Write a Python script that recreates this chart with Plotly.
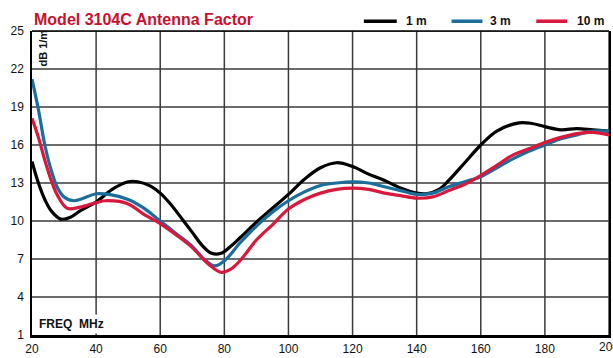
import plotly.graph_objects as go

# ---- data ----
freq_1m = [20, 22, 24, 26, 29, 32, 35, 40, 45, 50, 53, 57, 60, 63, 67, 70, 73, 76, 79, 82, 85, 90, 95,
           100, 105, 110, 115, 120, 125, 130, 135, 140, 143, 147, 150, 155, 160, 165, 172, 176, 180,
           185, 190, 195, 200]
af_1m = [14.7, 13.0, 11.7, 10.8, 10.15, 10.3, 10.8, 11.5, 12.5, 13.1, 13.1, 12.75, 12.2, 11.4, 10.1,
         9.1, 8.1, 7.45, 7.45, 8.0, 8.7, 9.9, 11.0, 12.1, 13.3, 14.2, 14.6, 14.3, 13.7, 13.2, 12.6,
         12.2, 12.15, 12.5, 13.2, 14.6, 16.0, 17.1, 17.75, 17.7, 17.45, 17.2, 17.3, 17.2, 17.1]

freq_3m = [20, 22, 24, 26, 28, 30, 33, 36, 40, 44, 50, 55, 60, 65, 70, 74, 77, 80, 85, 90, 95, 100,
           105, 110, 115, 120, 125, 130, 135, 140, 145, 150, 155, 160, 165, 170, 175, 180, 185, 190,
           195, 200]
af_3m = [21.2, 18.8, 16.0, 14.0, 12.6, 11.9, 11.6, 11.8, 12.15, 12.1, 11.7, 11.0, 10.0, 9.0, 8.0,
         6.9, 6.45, 6.85, 8.3, 9.6, 10.7, 11.6, 12.3, 12.8, 13.0, 13.1, 13.0, 12.7, 12.4, 12.1, 12.2,
         12.7, 13.1, 13.5, 14.2, 14.9, 15.5, 16.0, 16.5, 16.8, 17.1, 17.1]

freq_10m = [20, 22, 24, 26, 28, 31, 35, 40, 43, 50, 55, 60, 65, 70, 75, 79, 82, 85, 90, 95, 100, 105,
            110, 115, 120, 125, 130, 135, 140, 145, 150, 155, 160, 165, 170, 175, 180, 185, 190, 195,
            200]
af_10m = [18.1, 16.6, 14.8, 13.2, 12.0, 11.0, 11.1, 11.45, 11.6, 11.35, 10.5, 9.8, 8.9, 7.9, 6.6,
          5.95, 6.2, 6.9, 8.5, 9.7, 10.95, 11.7, 12.2, 12.5, 12.6, 12.5, 12.2, 12.0, 11.8, 11.9, 12.4,
          12.9, 13.6, 14.4, 15.2, 15.7, 16.2, 16.6, 16.9, 17.0, 16.8]

x_ticks = [20, 40, 60, 80, 100, 120, 140, 160, 180, 200]
y_ticks = [1, 4, 7, 10, 13, 16, 19, 22, 25]

series_names = ["1 m", "3 m", "10 m"]
series_colors = ["#000000", "#1b6d9c", "#d8183c"]
series_data = [(freq_1m, af_1m), (freq_3m, af_3m), (freq_10m, af_10m)]

FONT = "Liberation Sans, Arial, sans-serif"
GRID = "#3a3a3a"
W, H = 613, 358
ML, MR, MT, MB = 32, 2, 31, 16
PW, PH = W - ML - MR, H - MT - MB

def px_x(p):  # page pixel -> paper x
    return (p - ML) / PW

def px_y(p):  # page pixel -> paper y
    return (H - MB - p) / PH

fig = go.Figure()
for name, col, (fx, fy) in zip(series_names, series_colors, series_data):
    fig.add_trace(go.Scatter(x=fx, y=fy, name=name, mode="lines", showlegend=False,
                             line=dict(color=col, width=3.2, shape="spline", smoothing=1.0)))

shapes = []
# grid lines at the tick values (drawn beneath the curves)
for xv in x_ticks[1:]:
    shapes.append(dict(type="line", xref="x", yref="paper", x0=xv, x1=xv, y0=0, y1=1,
                       layer="below", line=dict(color=GRID, width=1.5)))
for yv in y_ticks[1:]:
    shapes.append(dict(type="line", xref="paper", yref="y", x0=0, x1=1, y0=yv, y1=yv,
                       layer="below", line=dict(color=GRID, width=1.5)))
shapes.append(dict(type="line", xref="paper", yref="paper", x0=0, x1=1, y0=1, y1=1,
                   line=dict(color="black", width=1.5)))

# legend drawn as key lines + labels (layout only)
legend_line_px = [(365, 398), (453, 484), (538, 569)]
legend_text_px = [405, 490, 577]
legend_y = px_y(21)
annotations = [
    dict(text="Model 3104C Antenna Factor", xref="paper", yref="paper", x=0, y=px_y(19),
         xanchor="left", yanchor="middle", showarrow=False,
         font=dict(family=FONT, size=16, color="#c8102e", weight="bold")),
    dict(text="dB 1/m", xref="paper", yref="paper", x=px_x(43), y=px_y(48), textangle=-90,
         xanchor="center", yanchor="middle",
         showarrow=False, font=dict(family=FONT, size=11, color="#111", weight="bold")),
    dict(text="FREQ\u00a0\u00a0MHz", xref="paper", yref="paper", x=px_x(36), y=px_y(341),
         xanchor="left", yanchor="bottom", showarrow=False, bgcolor="white", borderpad=2,
         font=dict(family=FONT, size=12, color="#111", weight="bold")),
    # right-most tick label sits at the page edge; drawn from the tick list
    dict(text=str(x_ticks[-1]), xref="x", yref="paper", x=x_ticks[-1], y=px_y(354),
         xanchor="center", yanchor="middle", showarrow=False,
         font=dict(family=FONT, size=12, color="#111")),
]
for name, col, (a, b), tx in zip(series_names, series_colors, legend_line_px, legend_text_px):
    shapes.append(dict(type="line", xref="paper", yref="paper", x0=px_x(a), x1=px_x(b),
                       y0=legend_y, y1=legend_y, line=dict(color=col, width=3.5)))
    annotations.append(dict(text=name, xref="paper", yref="paper", x=px_x(tx), y=legend_y,
                            xanchor="left", yanchor="middle", showarrow=False,
                            font=dict(family=FONT, size=12, color="#111", weight="bold")))

fig.update_layout(
    width=W, height=H,
    margin=dict(l=ML, r=MR, t=MT, b=MB),
    paper_bgcolor="white", plot_bgcolor="white",
    font=dict(family=FONT, size=12, color="#111"),
    showlegend=False,
    xaxis=dict(range=[20, 200], tickvals=x_ticks[:-1], ticktext=[str(v) for v in x_ticks[:-1]],
               showgrid=False,
               showline=True, linecolor="black", linewidth=3,
               ticks="outside", ticklen=1, tickcolor="white",
               zeroline=False, tickfont=dict(size=12, color="#111")),
    yaxis=dict(range=[1, 25], tickvals=y_ticks, ticktext=[str(v) for v in y_ticks],
               showgrid=False,
               showline=True, linecolor="black", linewidth=1.5, mirror=True,
               ticks="outside", ticklen=4, tickcolor="white",
               zeroline=False, tickfont=dict(size=12, color="#111")),
    shapes=shapes,
    annotations=annotations,
)

fig.write_html("out.html")
